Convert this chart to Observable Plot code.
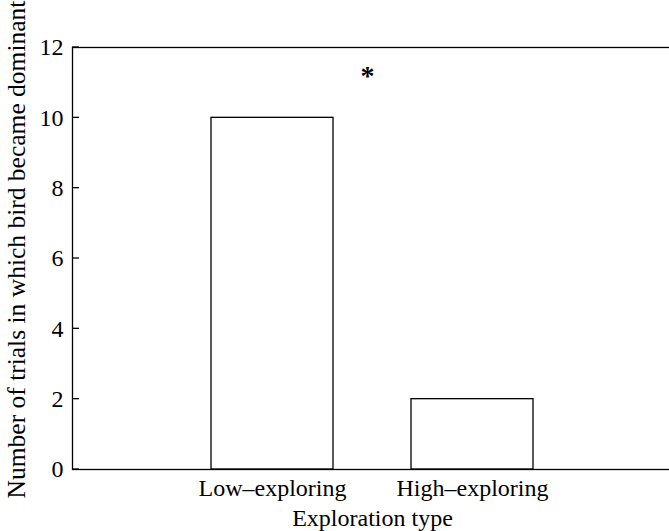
<!DOCTYPE html>
<html><head><meta charset="utf-8">
<script src="https://cdn.jsdelivr.net/npm/d3@7"></script>
<script src="https://cdn.jsdelivr.net/npm/@observablehq/plot@0.6"></script>
<style>body{margin:0;background:#fff;} svg{display:block;}</style>
</head><body><div id="chart"></div>
<script>
const categories = ["Low–exploring", "High–exploring"];
const values = [10, 2];
const yTicks = [0, 2, 4, 6, 8, 10, 12];
const yLabel = ["Number of trials in which bird became dominant"];
const significance = [{label: "*", y: 11.2}];

const data = categories.map((c, i) => ({type: c, count: values[i]}));
const font = "Liberation Serif, Times New Roman, serif";
const marginLeft = 72;

const chart = Plot.plot({
  width: 669,
  height: 531,
  marginLeft,
  marginRight: -3,
  marginTop: 47,
  marginBottom: 62,
  style: {fontFamily: font, fontSize: "24px", background: "#fff", color: "#000"},
  x: {domain: categories, range: [72, 672], paddingInner: 0.39, paddingOuter: 0.695, align: 0.5},
  y: {domain: [0, 12]},
  marks: [
    Plot.barY(data, {x: "type", y: "count", fill: "white", stroke: "black", strokeWidth: 1.3}),
    Plot.frame({stroke: "black", strokeWidth: 1.3}),
    Plot.axisY({ticks: yTicks, tickSize: 0, tickPadding: 9, label: null, fontSize: 24}),
    Plot.text(yLabel, {frameAnchor: "left", text: d => d, rotate: -90, textAnchor: "middle", dx: -56, dy: -9, fontSize: 25.5}),
    Plot.axisX({tickSize: 0, tickPadding: 9, label: "Exploration type", labelAnchor: "center", labelArrow: "none", labelOffset: 56, fontSize: 24}),
    Plot.text(significance, {y: "y", text: "label", dx: -5, fontSize: 28, fontWeight: "bold"})
  ]
});

// inward y-axis ticks, positioned by the plot's own y scale
const yScale = chart.scale("y");
d3.select(chart).append("g")
  .attr("stroke", "black")
  .attr("stroke-width", 1.3)
  .selectAll("line")
  .data(yTicks)
  .join("line")
  .attr("x1", marginLeft)
  .attr("x2", marginLeft + 7)
  .attr("y1", d => yScale.apply(d))
  .attr("y2", d => yScale.apply(d));

document.getElementById("chart").appendChild(chart);
</script></body></html>
